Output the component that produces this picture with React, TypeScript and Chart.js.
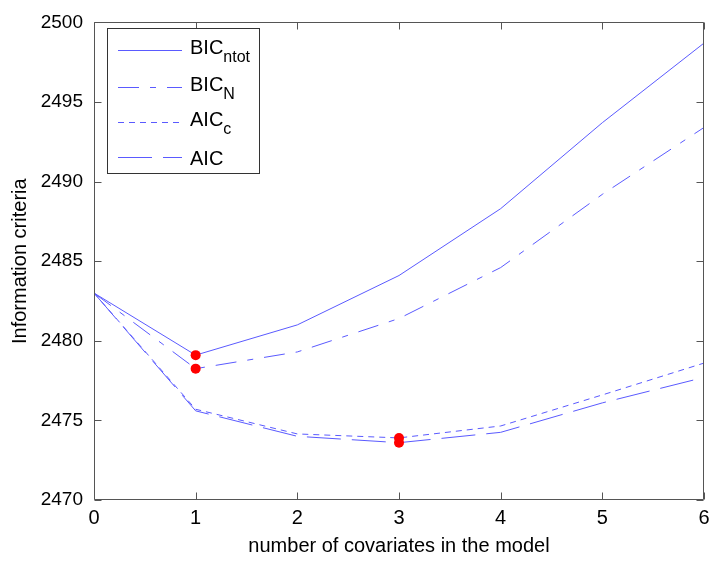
import React, { useEffect, useRef } from 'react';
import { Chart, registerables } from 'chart.js';

Chart.register(...registerables);

// ---- data ----
const xValues = [0, 1, 2, 3, 4, 5, 6];
const bicNtot = [2483, 2479.1, 2481.0, 2484.1, 2488.3, 2493.7, 2498.7];
const bicN = [2483, 2478.25, 2479.3, 2481.4, 2484.6, 2489.2, 2493.4];
const aicC = [2483, 2475.7, 2474.15, 2473.9, 2474.65, 2476.6, 2478.6];
const aic = [2483, 2475.6, 2474.0, 2473.6, 2474.25, 2476.1, 2477.7];
const minX = [1, 1, 3, 3];
const minY = [2479.1, 2478.25, 2473.9, 2473.6];
const xTicks = [0, 1, 2, 3, 4, 5, 6];
const yTicks = [2470, 2475, 2480, 2485, 2490, 2495, 2500];
const legendMain = ['BIC', 'BIC', 'AIC', 'AIC'];
const legendSub = ['ntot', 'N', 'c', ''];
const xTitle = 'number of covariates in the model';
const yTitle = 'Information criteria';

const LINE_COLOR = 'rgb(90,90,255)';
const dashes = [[], [21, 11, 6, 11], [6, 5], [34, 11]];
const FONT = '"Liberation Sans", Arial, Helvetica, sans-serif';

const matlabPlugin = {
  id: 'matlabDecor',
  afterDraw(chart: any) {
    const ctx = chart.ctx as CanvasRenderingContext2D;
    const a = chart.chartArea;
    const xs = chart.scales.x;
    const ys = chart.scales.y;
    ctx.save();
    // box
    ctx.strokeStyle = '#555';
    ctx.lineWidth = 1;
    ctx.setLineDash([]);
    const L = Math.round(a.left) + 0.5;
    const R = Math.round(a.right) - 0.5;
    const T = Math.round(a.top) + 0.5;
    const B = Math.round(a.bottom) - 0.5;
    ctx.beginPath();
    ctx.rect(L, T, R - L, B - T);
    ctx.stroke();
    // inward ticks on all sides
    ctx.beginPath();
    for (const v of xTicks) {
      const px = Math.round(xs.getPixelForValue(v)) + 0.5;
      ctx.moveTo(px, B);
      ctx.lineTo(px, B - 7);
      ctx.moveTo(px, T);
      ctx.lineTo(px, T + 7);
    }
    for (const v of yTicks) {
      const py = Math.round(ys.getPixelForValue(v)) + 0.5;
      ctx.moveTo(L, py);
      ctx.lineTo(L + 7, py);
      ctx.moveTo(R, py);
      ctx.lineTo(R - 7, py);
    }
    ctx.stroke();

    // legend
    const lx = 107.5, ly = 28.5, lw = 152, lh = 145;
    ctx.fillStyle = '#fff';
    ctx.fillRect(lx, ly, lw, lh);
    ctx.strokeStyle = '#333';
    ctx.strokeRect(lx, ly, lw, lh);
    const rows = [50.5, 87.5, 122.5, 157.5];
    for (let i = 0; i < legendMain.length; i++) {
      const y = rows[i];
      ctx.strokeStyle = LINE_COLOR;
      ctx.lineWidth = 1;
      ctx.setLineDash(dashes[i]);
      ctx.beginPath();
      ctx.moveTo(118, y);
      ctx.lineTo(182, y);
      ctx.stroke();
      ctx.setLineDash([]);
      ctx.fillStyle = '#000';
      ctx.textAlign = 'left';
      ctx.textBaseline = 'alphabetic';
      ctx.font = `20px ${FONT}`;
      const hasSub = legendSub[i] !== '';
      const base = hasSub ? y + 3 : y + 7.5;
      ctx.fillText(legendMain[i], 190, base);
      if (hasSub) {
        const w = ctx.measureText(legendMain[i]).width;
        ctx.font = `16px ${FONT}`;
        ctx.fillText(legendSub[i], 190 + w, base + 8);
      }
    }

    // axis titles
    ctx.fillStyle = '#000';
    ctx.font = `20px ${FONT}`;
    ctx.textAlign = 'center';
    ctx.textBaseline = 'middle';
    ctx.fillText(xTitle, (a.left + a.right) / 2, 546);
    ctx.save();
    ctx.translate(20, (a.top + a.bottom) / 2);
    ctx.rotate(-Math.PI / 2);
    ctx.fillText(yTitle, 0, 0);
    ctx.restore();

    ctx.restore();
  },
};

function pts(ys: number[]) {
  return xValues.map((x, i) => ({ x, y: ys[i] }));
}

export default function App() {
  const ref = useRef<HTMLCanvasElement | null>(null);
  useEffect(() => {
    if (!ref.current) return;
    const lineDs = (label: string, ys: number[], dash: number[]) => ({
      type: 'line' as const,
      label,
      data: pts(ys),
      borderColor: LINE_COLOR,
      borderWidth: 1,
      borderDash: dash,
      pointRadius: 0,
      fill: false,
      tension: 0,
    });
    const chart = new Chart(ref.current, {
      type: 'line',
      data: {
        datasets: [
          {
            type: 'scatter' as const,
            label: 'minima',
            data: minX.map((x, i) => ({ x, y: minY[i] })),
            backgroundColor: 'rgb(255,0,0)',
            borderColor: 'rgb(255,0,0)',
            borderWidth: 0,
            pointRadius: 5,
            showLine: false,
          } as any,
          lineDs('BICntot', bicNtot, dashes[0]),
          lineDs('BICN', bicN, dashes[1]),
          lineDs('AICc', aicC, dashes[2]),
          lineDs('AIC', aic, dashes[3]),
        ],
      },
      options: {
        responsive: false,
        animation: false,
        devicePixelRatio: 1,
        layout: { padding: { left: 0, top: 18, right: 15, bottom: 0 } },
        plugins: { legend: { display: false }, tooltip: { enabled: false } },
        scales: {
          x: {
            type: 'linear',
            min: 0,
            max: 6,
            afterFit: (s: any) => { s.height = 63; },
            afterBuildTicks: (s: any) => { s.ticks = xTicks.map((v) => ({ value: v })); },
            ticks: {
              color: '#000',
              font: { family: FONT, size: 20 },
              padding: 6,
              maxRotation: 0,
              callback: (v: any) => String(v),
            },
            grid: { display: false, drawTicks: false },
            border: { display: false },
          },
          y: {
            type: 'linear',
            min: 2470,
            max: 2500,
            afterFit: (s: any) => { s.width = 94; },
            afterBuildTicks: (s: any) => { s.ticks = yTicks.map((v) => ({ value: v })); },
            ticks: {
              color: '#000',
              font: { family: FONT, size: 19 },
              padding: 11,
              callback: (v: any) => String(v),
            },
            grid: { display: false, drawTicks: false },
            border: { display: false },
          },
        },
      },
      plugins: [matlabPlugin],
    });
    return () => chart.destroy();
  }, []);
  return (
    <div style={{ position: 'fixed', left: 0, top: 0, width: 719, height: 563, background: '#fff' }}>
      <canvas ref={ref} width={719} height={563} style={{ display: 'block' }} />
    </div>
  );
}
